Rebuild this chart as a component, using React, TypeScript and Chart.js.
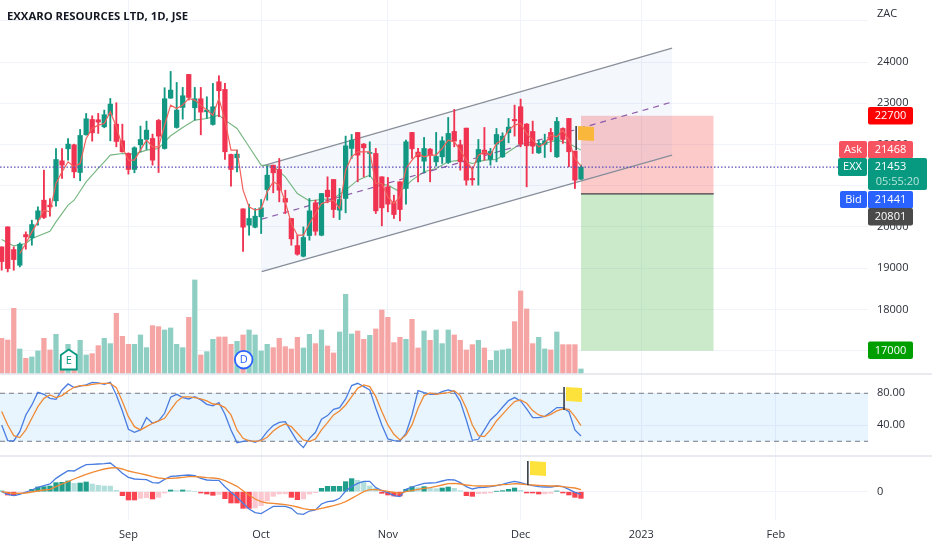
import React, { useEffect, useRef } from "react";
import { Chart, registerables } from "chart.js";

Chart.register(...registerables);

const chartTitle = "EXXARO RESOURCES LTD, 1D, JSE";
const opens = [19518,20003,19453,19073,19817,19736,20189,20650,20529,20634,21605,21896,21993,21322,22236,22608,22600,22430,22713,22495,22090,21783,21395,21993,22123,22147,22584,21904,23126,22414,22900,23700,22891,23110,22794,22487,23522,23336,21759,21678,20440,20044,19995,20246,20909,21500,21395,20691,20206,19550,19291,19793,20586,19801,20893,21152,20408,20691,21905,22293,22010,21783,21783,21217,20974,20594,21096,20934,22293,21816,21597,21888,21581,21702,21565,22317,21994,22398,21176,21581,21864,21638,22010,21702,22285,22608,22916,22495,22317,21799,22002,22293,21702,22390,22633,21840,21160];
const closes = [19162,18992,19210,19583,19761,20060,20392,20230,20489,21637,21500,22010,21338,22220,22624,22285,22544,22722,22980,22074,21824,21395,21921,22123,22349,21621,22204,23110,23320,22835,23183,23142,23110,22786,22835,22916,23304,21824,21395,21767,19995,20206,20262,20465,21257,21314,20893,20602,19712,19340,19745,20392,19898,20812,20731,20424,20667,21969,22107,21743,21921,21807,20392,20465,20554,20303,20424,22066,21896,21702,21905,21735,21710,22091,22269,22083,21581,21136,21144,21880,21767,21832,22244,22204,22422,22576,22010,21969,21961,22026,22091,22107,22560,22123,21824,21136,21453];
const highs = [19518,20003,19518,19615,19882,20165,20489,21379,20691,21904,21904,22147,22010,22366,22754,22697,22754,22835,23118,23013,22495,21799,21945,22446,22568,22252,22608,23377,23773,23506,23385,23700,23385,23385,23158,23482,23668,23482,21767,21864,20440,20553,20448,20667,21476,21500,21662,20893,20206,19801,20003,20691,20651,20812,21217,21152,20934,22204,22244,22293,22026,22066,21905,21217,21201,20772,21096,22107,22293,21905,22172,21905,22293,22188,22657,22851,22107,22398,21460,22123,22414,21905,22390,22285,22633,22956,23102,22511,22568,22107,22252,22390,22657,22406,22633,21840,21500];
const lows = [18952,18911,18952,19032,19461,19558,20044,20206,20262,20505,21176,21621,21193,21120,22228,22082,22269,22406,22090,21945,21815,21282,21314,21824,21880,21500,21322,21888,23118,22398,22616,23078,22592,22236,22632,22471,22673,21637,20990,21338,19405,19801,19979,19842,20651,20829,20610,20327,19558,19316,19275,19680,19801,19785,20586,20230,20181,20343,21662,21096,21217,21217,20327,20028,20367,20206,20149,20554,21662,21096,21314,21096,21476,21540,21540,21945,21379,21015,21015,21015,21621,21500,21581,21686,22042,22204,21945,20974,21783,21783,21686,21824,21686,22026,21460,20934,21152];
const fastMa = [null,null,null,19356,19599,19882,20125,20408,20367,21055,21338,21581,21459,21540,22147,22390,22471,22511,22794,22430,21945,21621,21621,21864,22107,21945,21945,22471,22956,22875,22956,23118,23078,22956,22835,22713,23118,22592,21864,21864,20893,20489,20408,20448,20853,21096,21015,20610,20084,19801,19801,20084,20327,20570,20610,20651,20448,21379,21702,21824,21824,21824,21055,21055,20731,20570,20731,21419,21621,21783,21702,21743,21743,21905,22107,22066,21864,21621,21379,21743,21824,21743,22026,22107,22350,22471,22511,22269,22107,21945,22026,22228,22188,22350,22107,21662,21476];
const slowMaDays = [0,2,4,5,8,9,11,12,14,16,17,18,20,22,24,26,27,28,30,32,34,36,37,39,41,43,45,47,49,51,53,55,57,59,61,62,64,66,68,70,72,74,76,78,80,82,84,86,88,90,92,94,96];
const slowMa = [19696,19542,19599,19720,19898,20125,20529,20650,21095,21419,21581,21743,21783,21767,21864,21904,22066,22212,22414,22592,22632,22713,22592,22390,21945,21500,21476,21217,20812,20634,20667,20691,20893,21136,21257,21055,21015,20853,21136,21338,21419,21581,21621,21541,21621,21638,21824,22026,21985,22026,22107,22026,21864];
const volumes = [1050,1000,1950,730,450,490,670,1050,700,1170,400,870,600,990,550,590,830,1050,890,1800,1110,870,870,1150,770,1430,1400,1300,1360,870,770,1680,2800,550,650,1020,1090,1090,870,960,1150,1300,1150,670,870,770,1050,800,730,1080,760,1170,890,1300,820,610,1240,2370,1180,1270,1020,1140,1330,1900,1680,920,1080,1020,1620,760,1270,990,1300,890,1300,1150,990,700,860,990,760,390,670,700,730,1550,2470,1930,890,1080,730,700,1240,860,860,860,130];
const stochK = [40.4,20.8,20.4,32.1,52.9,65.4,81.2,78.7,73.7,72.5,84.2,91.7,87.1,89.1,90.4,93.7,92.9,91.2,93.7,77.9,57.9,35.0,31.2,34.2,49.6,42.5,45.4,55.0,75.0,78.7,74.6,72.9,75.8,71.7,66.2,64.2,68.3,53.7,34.2,18.3,20.0,21.2,18.7,22.1,32.1,39.6,43.7,44.6,32.1,19.6,12.1,23.7,31.2,47.5,52.1,60.0,62.1,72.9,89.6,92.5,88.3,84.2,61.2,40.4,22.9,20.8,20.4,30.0,52.9,83.3,80.8,78.7,78.7,82.1,84.2,82.1,69.6,46.6,21.2,22.5,34.2,46.6,53.7,62.5,70.8,74.6,70.4,60.4,49.6,49.6,51.2,56.2,62.1,62.1,57.1,34.2,26.6];
const stochD = [57.1,40.4,27.1,24.6,34.2,48.7,63.3,73.7,77.9,74.6,77.1,82.9,87.5,89.6,89.6,91.2,92.1,92.5,92.5,87.1,69.6,50.8,38.3,34.2,38.3,42.5,45.4,48.7,59.2,69.6,75.4,75.4,74.6,72.9,70.4,66.6,66.2,62.1,52.9,34.2,23.7,20.4,20.0,20.8,25.0,32.9,38.3,41.6,38.3,30.0,21.6,19.6,22.9,34.2,43.3,52.9,57.9,65.4,75.8,86.2,90.4,88.3,75.8,57.1,40.4,28.7,21.6,27.9,40.4,61.2,77.1,80.4,78.7,80.0,80.8,83.3,77.1,61.2,40.4,27.1,25.8,34.2,45.4,53.7,62.1,69.6,71.7,67.5,58.3,52.9,50.8,53.7,57.9,60.4,60.0,50.8,39.6];
const macdLine = [0,-40,-60,-40,-5,25,65,90,115,200,260,315,310,360,405,410,415,420,430,360,275,215,190,185,180,135,130,185,230,235,245,250,240,200,175,170,170,75,-10,-85,-175,-260,-315,-330,-275,-220,-220,-220,-250,-330,-340,-290,-275,-185,-150,-140,-100,10,75,125,155,155,60,15,-15,-60,-75,35,70,100,125,130,135,160,180,175,135,75,40,60,65,75,90,110,135,155,135,110,90,75,70,70,85,75,35,-10,-40];
const macdSignal = [0,-15,-25,-25,-20,-5,10,25,35,75,115,150,190,225,260,290,315,340,355,360,340,310,290,270,250,225,205,195,200,205,215,225,225,220,210,205,195,165,125,80,15,-50,-110,-150,-170,-175,-185,-195,-210,-230,-255,-270,-270,-250,-230,-210,-185,-150,-100,-50,0,30,30,20,5,-10,-25,0,15,35,50,60,80,100,120,125,115,100,90,85,85,85,95,105,110,120,115,105,100,95,90,85,85,75,65,55,30];
const macdHist = [10,-50,-60,-10,-5,35,70,75,85,135,140,160,125,130,145,115,95,85,83,20,-60,-125,-125,-100,-90,-110,-85,-20,25,15,25,15,0,-20,-35,-55,-40,-105,-170,-170,-250,-250,-245,-210,-140,-70,-35,-33,-85,-120,-110,-35,-15,50,80,80,80,150,195,170,150,85,50,-25,-50,-65,-65,35,75,60,75,55,45,55,70,50,15,-60,-70,-30,-28,-20,5,15,35,55,20,-20,-20,-35,-33,-25,10,-20,-50,-85,-100];
const xTickDays = [21,43,64,86,106,128.3];
const xTickLabels = ["Sep","Oct","Nov","Dec","2023","Feb"];
const priceTicks = [25000,24000,23000,22000,21000,20000,19000,18000,17000];
const stochTicks = [80,40];
const macdTicks = [0];
const lastPrice = 21453;
const channelDays = [43.1,111.1];
const channelUpper = [21476,24340];
const channelMiddle = [20190,23030];
const channelLower = [18915,21743];
const positionDays = [96,118];
const positionStop = 22700;
const positionEntry = 20801;
const positionTarget = 17000;
const stochBands = [80,20];

const RED = "#ef3350", GREEN = "#129882";
const FONT = '"Open Sans", sans-serif';
const TEXT = "#2a2e39";
const PANE_PRICE = 374, PANE_STOCH = 82, PANE_MACD = 64;
const pts = (xs: number[], ys: any[]) => xs.map((x, i) => ({ x, y: ys[i] }));
const days = opens.map((_, i) => i);
const flat = (v: number, a = -0.28, b = 143.57) => [{ x: a, y: v }, { x: b, y: v }];

const overlay = {
  id: "overlay",
  afterDraw(c: any) {
    const ctx = c.ctx, s = c.scales;
    ctx.save();
    const box = (x: number, y: number, w: number, h: number, bg: string, r = 2) => {
      ctx.fillStyle = bg; ctx.beginPath(); ctx.roundRect(x, y, w, h, r); ctx.fill();
    };
    const text = (t: string, x: number, y: number, col: string, align = "center", font = `11px ${FONT}`) => {
      ctx.fillStyle = col; ctx.font = font; ctx.textAlign = align; ctx.textBaseline = "middle"; ctx.fillText(t, x, y);
    };
    ctx.strokeStyle = "#e0e3eb";
    ctx.lineWidth = 1.5;
    [s.y.bottom, s.yStoch.bottom].forEach((y: number) => {
      ctx.beginPath(); ctx.moveTo(0, y); ctx.lineTo(932, y); ctx.stroke();
    });
    text(chartTitle, 7, 17, "#131722", "left", `700 11.3px ${FONT}`);
    text("ZAC", 877, 14, TEXT, "left");
    const flag = (day: number, sc: any, hi: number, lo: number, fx: number, fw: number, col: string) => {
      const x = s.x.getPixelForValue(day), t = sc.getPixelForValue(hi), b = sc.getPixelForValue(lo);
      ctx.fillStyle = col; ctx.beginPath(); ctx.moveTo(fx, t); ctx.lineTo(fx + fw, t + 1); ctx.lineTo(fx + fw, t + 15); ctx.lineTo(fx, t + 14); ctx.fill();
      ctx.strokeStyle = "#2a2e39"; ctx.lineWidth = 1.5; ctx.beginPath(); ctx.moveTo(x, t); ctx.lineTo(x, b); ctx.stroke();
    };
    flag(95.2, s.y, 22447, 21864, 578, 16, "#f9b83c");
    flag(93.2, s.yStoch, 88, 59, 566, 16, "#fde23b");
    flag(87.2, s.yMacd, 460, 100, 530, 16, "#fde23b");
    ctx.fillStyle = "#fff"; ctx.strokeStyle = "#089981"; ctx.lineWidth = 1.8;
    ctx.beginPath(); ctx.moveTo(68.7, 349.5); ctx.lineTo(76.8, 355); ctx.lineTo(76.8, 369.5); ctx.lineTo(60.8, 369.5); ctx.lineTo(60.8, 355); ctx.closePath(); ctx.fill(); ctx.stroke();
    text("E", 68.7, 360.5, "#089981");
    ctx.fillStyle = "#fff"; ctx.strokeStyle = "#2962ff";
    ctx.beginPath(); ctx.arc(243.7, 359.7, 8.8, 0, Math.PI * 2); ctx.fill(); ctx.stroke();
    text("D", 243.7, 360, "#2962ff");
    const label = (t: string, y: number, bg: string, col = "#fff") => { box(868, y, 45, 17.5, bg); text(t, 890.5, y + 9, col); };
    label(String(positionStop), 107, "#ff0000");
    box(839, 141, 28, 17, "#f7525f"); text("Ask", 853, 150, "#fff");
    label("21468", 141, "#f7525f");
    box(838, 158, 29, 18, "#089981"); text("EXX", 852.5, 167, "#fff");
    box(868, 158, 59, 32, "#089981"); text(String(lastPrice), 890.5, 167, "#fff"); text("05:55:20", 897.5, 181.5, "#b5e5da");
    box(840, 191, 27, 17, "#2962ff"); text("Bid", 853.5, 200, "#fff");
    label("21441", 191, "#2962ff");
    label(String(positionEntry), 208, "#4a4a4a");
    label(String(positionTarget), 341.5, "#009f00");
    ctx.restore();
  },
};

export default function App() {
  const ref = useRef<HTMLCanvasElement>(null);
  useEffect(() => {
    const line = (data: any[], yAxisID: string, color: string, width: number, order: number, extra: any = {}) => ({
      type: "line", data, yAxisID, xAxisID: "x", borderColor: color, borderWidth: width, pointRadius: 0, order, fill: false, ...extra,
    });
    const histColor = macdHist.map((v, i) => {
      const p = i ? macdHist[i - 1] : 0;
      return v >= 0 ? (v >= p ? "#1f9e8c" : "#b2dfdb") : (v <= p ? "#f9434f" : "#fbc8d0");
    });
    const yAxis = (min: number, max: number, list: number[], weight: number, fmt: (v: number) => string) => ({
      type: "linear", position: "right", stack: "panes", stackWeight: weight, min, max,
      afterBuildTicks: (s: any) => { s.ticks = list.map((value) => ({ value })); },
      afterFit: (s: any) => { s.width = 64; s.paddingTop = 0; s.paddingBottom = 0; s.paddingLeft = 0; s.paddingRight = 0; },
      grid: { color: "#f0f3fa", drawTicks: false },
      border: { display: false },
      ticks: { padding: 9, color: TEXT, font: { family: FONT, size: 11 }, autoSkip: false, callback: (v: number) => fmt(v) },
    });
    const chart = new Chart(ref.current as any, {
      type: "bar",
      data: {
        datasets: [
          line(flat(lastPrice, -0.28, 138.6), "y", "#5a4db5", 1.4, 1, { borderDash: [1.5, 2] }),
          line(pts(days, fastMa), "y", "#f2605c", 1.2, 2),
          line(pts(slowMaDays, slowMa), "y", "#74b57f", 1.1, 6),
          { type: "bar", xAxisID: "x", yAxisID: "y", grouped: false, barThickness: 4.6, order: 3,
            data: days.map((i) => ({ x: i, y: [opens[i], closes[i]] })),
            backgroundColor: days.map((i) => (closes[i] >= opens[i] ? GREEN : RED)) },
          { type: "bar", xAxisID: "x", yAxisID: "y", grouped: false, barThickness: 1.2, order: 4,
            data: days.map((i) => ({ x: i, y: [lows[i], highs[i]] })),
            backgroundColor: days.map((i) => (closes[i] >= opens[i] ? GREEN : RED)) },
          line(pts(channelDays, channelMiddle), "y", "#8d5cab", 1.2, 5, { borderDash: [6, 5] }),
          line(pts(channelDays, channelUpper), "y", "#8a8f99", 1.3, 7, { fill: "+1", backgroundColor: "rgba(33,110,210,0.05)" }),
          line(pts(channelDays, channelLower), "y", "#8a8f99", 1.3, 7),
          line(pts(positionDays, [positionEntry, positionEntry]), "y", "#3c3f45", 1.2, 8),
          line(pts(positionDays, [positionStop, positionStop]), "y", "rgba(0,0,0,0)", 0, 9, { fill: { value: positionEntry }, backgroundColor: "rgba(248,90,90,0.32)" }),
          line(pts(positionDays, [positionEntry, positionEntry]), "y", "rgba(0,0,0,0)", 0, 9, { fill: { value: positionTarget }, backgroundColor: "rgba(90,190,90,0.32)" }),
          { type: "bar", xAxisID: "x", yAxisID: "yVolume", grouped: false, barThickness: 4.6, order: 10,
            data: days.map((i) => ({ x: i, y: volumes[i] })),
            backgroundColor: days.map((i) => (closes[i] >= opens[i] ? "#8fcfc3" : "#f6a5a5")) },
          line(pts(days, stochK), "yStoch", "#4a7de0", 1.3, 1),
          line(pts(days, stochD), "yStoch", "#f08a35", 1.3, 0),
          line(flat(stochBands[0]), "yStoch", "#787b86", 1, 2, { borderDash: [5, 4], fill: "+1", backgroundColor: "rgba(33,150,243,0.1)" }),
          line(flat(stochBands[1]), "yStoch", "#787b86", 1, 2, { borderDash: [5, 4] }),
          line(pts(days, macdLine), "yMacd", "#4a7de0", 1.3, 1),
          line(pts(days, macdSignal), "yMacd", "#f08a35", 1.3, 0),
          { type: "bar", xAxisID: "x", yAxisID: "yMacd", grouped: false, barThickness: 4.6, order: 3,
            data: days.map((i) => ({ x: i, y: macdHist[i] })), backgroundColor: histColor },
        ] as any,
      },
      options: {
        animation: false, responsive: false,
        layout: { padding: 0 },
        plugins: { legend: { display: false }, tooltip: { enabled: false }, title: { display: false } },
        scales: {
          x: {
            type: "linear", min: -0.28, max: 143.57, offset: false,
            afterBuildTicks: (s: any) => { s.ticks = xTickDays.map((value) => ({ value })); },
            afterFit: (s: any) => { s.height = 30; s.paddingLeft = 0; s.paddingRight = 0; },
            grid: { color: "#f0f3fa", drawTicks: false, offset: false },
            border: { display: false },
            ticks: {
              padding: 8, color: TEXT, maxRotation: 0, autoSkip: false,
              font: { family: FONT, size: 11 },
              callback: (v: number) => xTickLabels[xTickDays.indexOf(v)] ?? "",
            },
          },
          y: yAxis(16435, 25505, priceTicks, PANE_PRICE, (v) => (v === 25000 ? "" : String(v))),
          yStoch: yAxis(1.6, 104.1, stochTicks, PANE_STOCH, (v) => v.toFixed(2)),
          yMacd: yAxis(-425, 535, macdTicks, PANE_MACD, (v) => String(v)),
          yVolume: { type: "linear", display: false, min: -4401, max: 11199 },
        } as any,
      },
      plugins: [overlay],
    } as any);
    return () => chart.destroy();
  }, []);
  return (
    <div style={{ position: "fixed", left: 0, top: 0, width: 932, height: 550, background: "#fff" }}>
      <canvas ref={ref} width={932} height={550} style={{ display: "block" }} />
    </div>
  );
}
